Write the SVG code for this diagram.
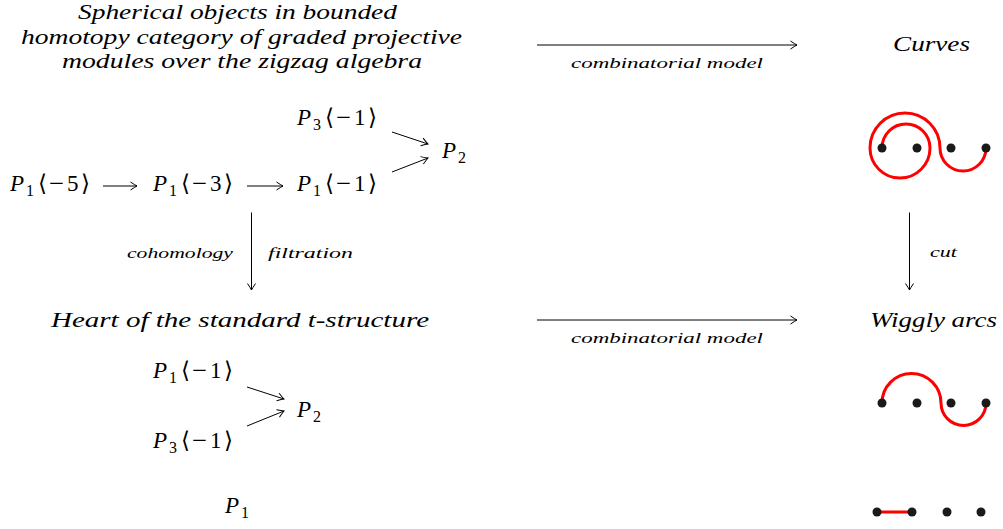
<svg xmlns="http://www.w3.org/2000/svg" width="1003" height="529" viewBox="0 0 1003 529">
<style>
.it{font-family:"Liberation Serif","DejaVu Serif",serif;font-style:italic;fill:#000}
.rm{font-family:"Liberation Serif","DejaVu Serif",serif;fill:#000}
.big{font-size:22px}
.sm{font-size:15px}
.mp{font-size:23px}
.sub{font-size:16px}
.ar{stroke:#000;stroke-width:1;fill:none}
.red{stroke:#ff0000;stroke-width:3;fill:none}
.dot{fill:#1a1a1a}
</style>
<defs>
<marker id="to" viewBox="-8 -5 10 10" refX="0" refY="0" markerWidth="10" markerHeight="10" markerUnits="userSpaceOnUse" orient="auto">
<path d="M -6.5 -4 Q -2 -1 0 0 Q -2 1 -6.5 4" stroke="#000" stroke-width="1" fill="none"/>
</marker>
</defs>
<rect width="1003" height="529" fill="#fff"/>

<g id="title-left">
<text class="it big" x="78" y="19" textLength="319" lengthAdjust="spacingAndGlyphs">Spherical objects in bounded</text>
<text class="it big" x="21" y="43.5" textLength="441" lengthAdjust="spacingAndGlyphs">homotopy category of graded projective</text>
<text class="it big" x="62" y="68" textLength="360" lengthAdjust="spacingAndGlyphs">modules over the zigzag algebra</text>
</g>
<g id="title-curves"><text class="it big" x="893" y="51" textLength="77" lengthAdjust="spacingAndGlyphs">Curves</text></g>
<g id="title-heart"><text class="it big" x="51" y="327" textLength="378" lengthAdjust="spacingAndGlyphs">Heart of the standard t-structure</text></g>
<g id="title-wiggly"><text class="it big" x="870" y="327" textLength="127" lengthAdjust="spacingAndGlyphs">Wiggly arcs</text></g>

<g id="n-P3m1-top">
<text class="it mp" x="297" y="124.5">P</text><text class="rm sub" x="313" y="129.5">3</text><text class="rm mp" x="325" y="124.5">⟨</text><text class="rm mp" x="336" y="124.5" textLength="15" lengthAdjust="spacingAndGlyphs">−</text><text class="rm mp" x="354" y="124.5">1</text><text class="rm mp" x="368" y="124.5">⟩</text>
</g>
<g id="n-P2-top">
<text class="it mp" x="442" y="158">P</text><text class="rm sub" x="458" y="163">2</text>
</g>
<g id="n-P1m5">
<text class="it mp" x="10" y="191">P</text><text class="rm sub" x="26" y="196">1</text><text class="rm mp" x="38" y="191">⟨</text><text class="rm mp" x="49" y="191" textLength="15" lengthAdjust="spacingAndGlyphs">−</text><text class="rm mp" x="67" y="191">5</text><text class="rm mp" x="81" y="191">⟩</text>
</g>
<g id="n-P1m3">
<text class="it mp" x="153" y="191">P</text><text class="rm sub" x="169" y="196">1</text><text class="rm mp" x="181" y="191">⟨</text><text class="rm mp" x="192" y="191" textLength="15" lengthAdjust="spacingAndGlyphs">−</text><text class="rm mp" x="210" y="191">3</text><text class="rm mp" x="224" y="191">⟩</text>
</g>
<g id="n-P1m1-top">
<text class="it mp" x="297" y="191">P</text><text class="rm sub" x="313" y="196">1</text><text class="rm mp" x="325" y="191">⟨</text><text class="rm mp" x="336" y="191" textLength="15" lengthAdjust="spacingAndGlyphs">−</text><text class="rm mp" x="354" y="191">1</text><text class="rm mp" x="368" y="191">⟩</text>
</g>

<g id="n-P1m1-bot">
<text class="it mp" x="153" y="378">P</text><text class="rm sub" x="169" y="383">1</text><text class="rm mp" x="181" y="378">⟨</text><text class="rm mp" x="192" y="378" textLength="15" lengthAdjust="spacingAndGlyphs">−</text><text class="rm mp" x="210" y="378">1</text><text class="rm mp" x="224" y="378">⟩</text>
</g>
<g id="n-P2-bot">
<text class="it mp" x="297" y="416.5">P</text><text class="rm sub" x="313" y="421.5">2</text>
</g>
<g id="n-P3m1-bot">
<text class="it mp" x="153" y="448">P</text><text class="rm sub" x="169" y="453">3</text><text class="rm mp" x="181" y="448">⟨</text><text class="rm mp" x="192" y="448" textLength="15" lengthAdjust="spacingAndGlyphs">−</text><text class="rm mp" x="210" y="448">1</text><text class="rm mp" x="224" y="448">⟩</text>
</g>
<g id="n-P1-bot">
<text class="it mp" x="225" y="513">P</text><text class="rm sub" x="241" y="518">1</text>
</g>

<g id="connectors">
<line class="ar" x1="537" y1="45" x2="797" y2="45" marker-end="url(#to)"/>
<line class="ar" x1="537" y1="320" x2="797" y2="320" marker-end="url(#to)"/>
<line class="ar" x1="103" y1="186" x2="137" y2="186" marker-end="url(#to)"/>
<line class="ar" x1="247" y1="186" x2="283" y2="186" marker-end="url(#to)"/>
<line class="ar" x1="392" y1="132" x2="428" y2="144" marker-end="url(#to)"/>
<line class="ar" x1="392" y1="172" x2="428" y2="158" marker-end="url(#to)"/>
<line class="ar" x1="247" y1="387" x2="284" y2="399" marker-end="url(#to)"/>
<line class="ar" x1="247" y1="426" x2="284" y2="411" marker-end="url(#to)"/>
<line class="ar" x1="251.5" y1="212.5" x2="251.5" y2="290" marker-end="url(#to)"/>
<line class="ar" x1="909.5" y1="212.5" x2="909.5" y2="290" marker-end="url(#to)"/>
<text class="it sm" x="571" y="67.5" textLength="192" lengthAdjust="spacingAndGlyphs">combinatorial model</text>
<text class="it sm" x="571" y="342.5" textLength="192" lengthAdjust="spacingAndGlyphs">combinatorial model</text>
<text class="it sm" x="127" y="258" textLength="106" lengthAdjust="spacingAndGlyphs">cohomology</text>
<text class="it sm" x="268" y="258" textLength="85" lengthAdjust="spacingAndGlyphs">filtration</text>
<text class="it sm" x="930" y="257" textLength="27" lengthAdjust="spacingAndGlyphs">cut</text>
</g>

<g id="fig-curves">
<path class="red" d="M 882 148 A 24 24 0 0 1 930 148 A 30 30 0 0 1 870 148 A 35 35 0 0 1 940 148 A 23 23 0 0 0 986 148"/>
<circle class="dot" cx="882" cy="148" r="4.5"/><circle class="dot" cx="917" cy="148" r="4.5"/><circle class="dot" cx="951" cy="148" r="4.5"/><circle class="dot" cx="986" cy="148" r="4.5"/>
</g>
<g id="fig-wiggly1">
<path class="red" d="M 882 403 A 29.5 29.5 0 0 1 941 403 A 22.5 22.5 0 0 0 986 403"/>
<circle class="dot" cx="882" cy="403" r="4.5"/><circle class="dot" cx="917" cy="403" r="4.5"/><circle class="dot" cx="951" cy="403" r="4.5"/><circle class="dot" cx="986" cy="403" r="4.5"/>
</g>
<g id="fig-wiggly2">
<line class="red" x1="877" y1="512" x2="912" y2="512"/>
<circle class="dot" cx="877" cy="512" r="4.5"/><circle class="dot" cx="912" cy="512" r="4.5"/><circle class="dot" cx="947" cy="512" r="4.5"/><circle class="dot" cx="981" cy="512" r="4.5"/>
</g>
</svg>
